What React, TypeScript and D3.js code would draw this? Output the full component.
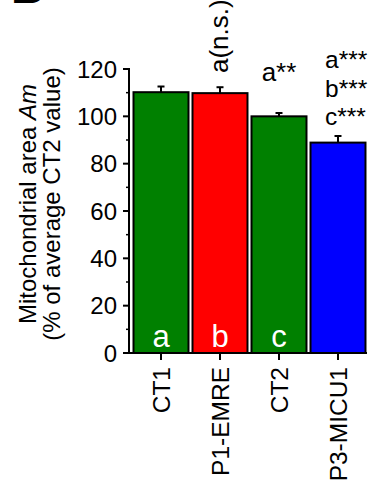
import React from "react";
import * as d3 from "d3";

const categories = ["CT1", "P1-EMRE", "CT2", "P3-MICU1"];
const means = [110.2, 109.8, 100.0, 88.9];
const sems = [2.4, 2.5, 1.4, 2.8];
const barColors = ["#008000", "#ff0000", "#008000", "#0000ff"];
const barLetters = ["a", "b", "c", ""];
const yTicks = [0, 20, 40, 60, 80, 100, 120];
const yMinorTicks = [10, 30, 50, 70, 90, 110];
const stackedStats = ["a***", "b***", "c***"];

const W = 369;
const H = 489;
const FONT = "'Liberation Sans', Arial, Helvetica, sans-serif";

export default function App() {
  const x = d3
    .scaleBand<string>()
    .domain(categories)
    .range([131.5, 367.5])
    .paddingInner(0.068)
    .paddingOuter(0.034);
  const y = d3.scaleLinear().domain([0, 120]).range([353, 69]);
  const axisX = 129;
  const cx = (c: string) => (x(c) as number) + x.bandwidth() / 2;

  return (
    <svg
      width={W}
      height={H}
      style={{ position: "absolute", left: 0, top: 0, background: "#fff" }}
      fontFamily={FONT}
    >
      <rect x={0} y={0} width={W} height={H} fill="#fff" />
      {/* cropped panel letter */}
      <text x={11} y={3} fontSize={46} fontWeight="bold" fill="#000">
        B
      </text>

      {/* bars */}
      {categories.map((c, i) => (
        <g key={c}>
          <rect
            x={x(c)}
            y={y(means[i])}
            width={x.bandwidth()}
            height={y(0) - y(means[i])}
            fill={barColors[i]}
            stroke="#000"
            strokeWidth={2}
          />
          <line
            x1={cx(c)}
            x2={cx(c)}
            y1={y(means[i])}
            y2={y(means[i] + sems[i])}
            stroke="#000"
            strokeWidth={2}
          />
          <line
            x1={cx(c) - 3.5}
            x2={cx(c) + 3.5}
            y1={y(means[i] + sems[i])}
            y2={y(means[i] + sems[i])}
            stroke="#000"
            strokeWidth={2}
          />
          {barLetters[i] && (
            <text
              x={cx(c)}
              y={347}
              fontSize={31}
              fill="#fff"
              textAnchor="middle"
            >
              {barLetters[i]}
            </text>
          )}
        </g>
      ))}

      {/* y axis */}
      <line x1={axisX} x2={axisX} y1={y(120) - 1} y2={y(0) + 1} stroke="#000" strokeWidth={2} />
      {yTicks.map((t) => (
        <g key={t}>
          <line x1={axisX - 6} x2={axisX} y1={y(t)} y2={y(t)} stroke="#000" strokeWidth={2} />
          <text x={117} y={y(t)} dy="0.36em" fontSize={24} textAnchor="end" fill="#000">
            {t}
          </text>
        </g>
      ))}
      {yMinorTicks.map((t) => (
        <line key={t} x1={axisX - 3} x2={axisX} y1={y(t)} y2={y(t)} stroke="#000" strokeWidth={1.5} />
      ))}

      {/* x axis */}
      <line x1={axisX} x2={367} y1={y(0)} y2={y(0)} stroke="#000" strokeWidth={2} />
      {categories.map((c) => (
        <g key={c}>
          <line x1={cx(c)} x2={cx(c)} y1={y(0)} y2={y(0) + 7} stroke="#000" strokeWidth={2} />
          <text
            transform={`translate(${cx(c) + 8.5},${367}) rotate(-90)`}
            fontSize={24.5}
            textAnchor="end"
            fill="#000"
          >
            {c}
          </text>
        </g>
      ))}

      {/* y label */}
      <text
        transform={`translate(36,204) rotate(-90)`}
        fontSize={24}
        textAnchor="middle"
        fill="#000"
      >
        Mitochondrial area <tspan fontStyle="italic">Am</tspan>
      </text>
      <text
        transform={`translate(60,204) rotate(-90)`}
        fontSize={24}
        textAnchor="middle"
        fill="#000"
      >
        (% of average CT2 value)
      </text>

      {/* significance annotations */}
      <text
        transform={`translate(${cx(categories[1]) + 8},73) rotate(-90)`}
        fontSize={26}
        textAnchor="start"
        fill="#000"
      >
        a(n.s.)
      </text>
      <text x={cx(categories[2])} y={81} fontSize={26} textAnchor="middle" fill="#000">
        a**
      </text>
      {stackedStats.map((s, i) => (
        <text key={s} x={325} y={68 + i * 28.5} fontSize={24.5} fill="#000">
          {s}
        </text>
      ))}
    </svg>
  );
}
